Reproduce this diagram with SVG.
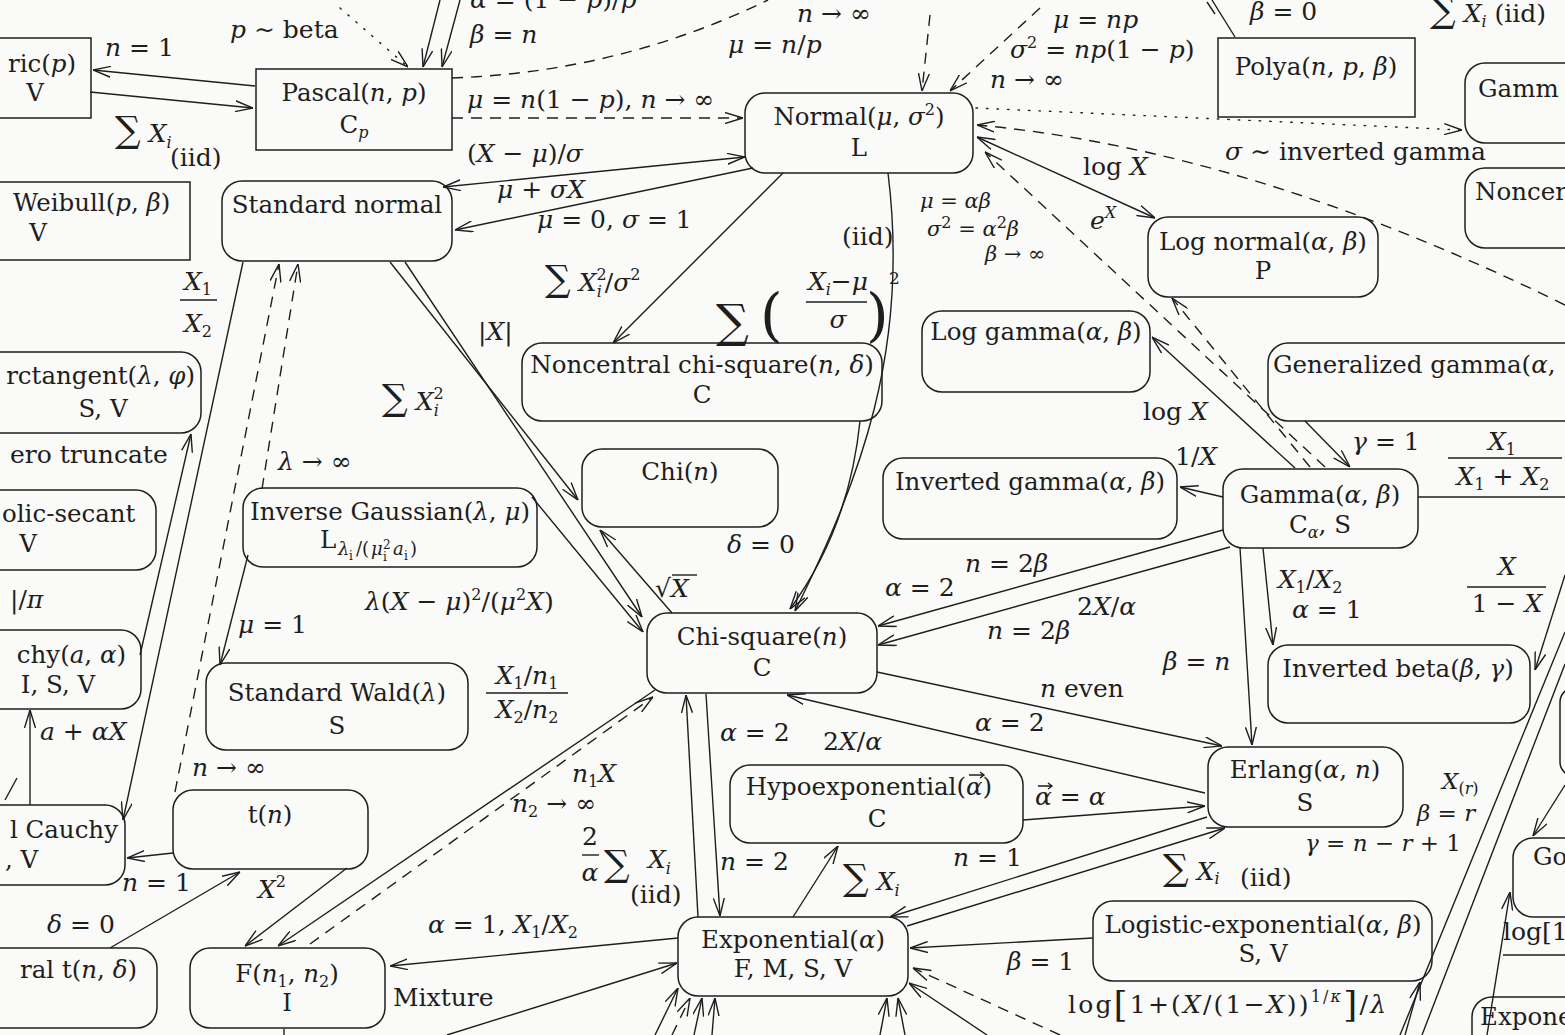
<svg xmlns="http://www.w3.org/2000/svg" width="1565" height="1035" viewBox="0 0 1565 1035">
<defs>
<style>
.nd{fill:none;stroke:#1e1e1e;stroke-width:1.5}
text{font-family:"DejaVu Serif","Liberation Serif",serif;font-size:25px;fill:#1e1e1e}
.nt{font-size:24.5px}
.sm{font-size:21px}
.md{font-size:23px}
.c{text-anchor:middle}
.e{text-anchor:end}
.i{font-style:italic}
.s{font-size:16px}
.big{font-size:36px}
.ln{fill:none;stroke:#1e1e1e;stroke-width:1.4}
.da{stroke-dasharray:11 8}
.dt{stroke-dasharray:1.5 9;stroke-linecap:round}
</style>
<marker id="a" viewBox="0 0 18 12" refX="18" refY="6" markerWidth="18" markerHeight="12" markerUnits="userSpaceOnUse" orient="auto-start-reverse">
<path d="M0,0.5 L18,6 L0,11.5" fill="none" stroke="#1e1e1e" stroke-width="1.4"/>
</marker>
</defs>
<rect width="1565" height="1035" fill="#fafaf8"/>

<g id="connectors">
<line class="ln" x1="255" y1="86" x2="93" y2="70" marker-end="url(#a)"/>
<line class="ln" x1="90" y1="92" x2="253" y2="108" marker-end="url(#a)"/>
<line class="ln dt" x1="340" y1="8" x2="408" y2="67" marker-end="url(#a)"/>
<line class="ln" x1="440" y1="0" x2="423" y2="67" marker-end="url(#a)"/>
<line class="ln" x1="460" y1="0" x2="442" y2="67" marker-end="url(#a)"/>
<path class="ln da" d="M452,78 Q620,72 768,0"/>
<line class="ln da" x1="452" y1="118" x2="743" y2="118" marker-end="url(#a)"/>
<line class="ln da" x1="930" y1="15" x2="922" y2="91" marker-end="url(#a)"/>
<line class="ln da" x1="1040" y1="8" x2="950" y2="91" marker-end="url(#a)"/>
<line class="ln" x1="1235" y1="37" x2="1212" y2="0"/>
<line class="ln" x1="1207" y1="2" x2="1215" y2="14"/>
<line class="ln dt" x1="976" y1="108" x2="1462" y2="130" marker-end="url(#a)"/>
<path class="ln da" d="M1565,305 Q1250,150 977,125" marker-end="url(#a)"/>
<line class="ln" x1="977" y1="137" x2="1155" y2="218" marker-start="url(#a)" marker-end="url(#a)"/>
<line class="ln da" x1="1325" y1="467" x2="985" y2="152" marker-end="url(#a)"/>
<line class="ln da" x1="1310" y1="467" x2="1172" y2="298" marker-end="url(#a)"/>
<line class="ln" x1="1295" y1="468" x2="1152" y2="337" marker-end="url(#a)"/>
<line class="ln" x1="1305" y1="421" x2="1350" y2="467" marker-end="url(#a)"/>
<line class="ln" x1="1223" y1="497" x2="1180" y2="487" marker-end="url(#a)"/>
<line class="ln" x1="1223" y1="530" x2="878" y2="626" marker-end="url(#a)"/>
<line class="ln" x1="1230" y1="547" x2="878" y2="645" marker-end="url(#a)"/>
<line class="ln" x1="1418" y1="497" x2="1565" y2="497"/>
<line class="ln" x1="1263" y1="548" x2="1273" y2="645" marker-end="url(#a)"/>
<line class="ln" x1="1240" y1="548" x2="1252" y2="745" marker-end="url(#a)"/>
<line class="ln" x1="877" y1="672" x2="1222" y2="746" marker-end="url(#a)"/>
<line class="ln" x1="1205" y1="793" x2="787" y2="695" marker-end="url(#a)"/>
<line class="ln" x1="1023" y1="820" x2="1205" y2="806" marker-end="url(#a)"/>
<line class="ln" x1="1207" y1="817" x2="890" y2="917" marker-end="url(#a)"/>
<line class="ln" x1="907" y1="926" x2="1225" y2="828" marker-end="url(#a)"/>
<line class="ln" x1="793" y1="917" x2="838" y2="846" marker-end="url(#a)"/>
<line class="ln" x1="698" y1="917" x2="686" y2="695" marker-end="url(#a)"/>
<line class="ln" x1="706" y1="694" x2="720" y2="916" marker-end="url(#a)"/>
<line class="ln" x1="1093" y1="938" x2="910" y2="948" marker-end="url(#a)"/>
<line class="ln" x1="678" y1="938" x2="390" y2="966" marker-end="url(#a)"/>
<line class="ln" x1="447" y1="1035" x2="677" y2="963" marker-end="url(#a)"/>
<line class="ln" x1="655" y1="690" x2="278" y2="946" marker-end="url(#a)"/>
<line class="ln da" x1="310" y1="944" x2="653" y2="697" marker-end="url(#a)"/>
<line class="ln" x1="347" y1="868" x2="245" y2="946" marker-end="url(#a)"/>
<line class="ln" x1="110" y1="948" x2="240" y2="872" marker-end="url(#a)"/>
<line class="ln" x1="173" y1="853" x2="127" y2="858" marker-end="url(#a)"/>
<line class="ln" x1="30" y1="805" x2="30" y2="710" marker-end="url(#a)"/>
<line class="ln" x1="243" y1="262" x2="123" y2="820" marker-end="url(#a)"/>
<line class="ln" x1="140" y1="655" x2="191" y2="434" marker-end="url(#a)"/>
<line class="ln da" x1="175" y1="792" x2="279" y2="264" marker-end="url(#a)"/>
<line class="ln da" x1="262" y1="489" x2="298" y2="264" marker-end="url(#a)"/>
<line class="ln" x1="248" y1="555" x2="220" y2="665" marker-end="url(#a)"/>
<line class="ln" x1="390" y1="262" x2="578" y2="500" marker-end="url(#a)"/>
<line class="ln" x1="405" y1="262" x2="642" y2="617" marker-end="url(#a)"/>
<line class="ln" x1="532" y1="497" x2="643" y2="632" marker-end="url(#a)"/>
<line class="ln" x1="672" y1="613" x2="600" y2="530" marker-end="url(#a)"/>
<line class="ln" x1="783" y1="173" x2="613" y2="343" marker-end="url(#a)"/>
<path class="ln" d="M888,173 C910,350 860,480 795,611" marker-end="url(#a)"/>
<path class="ln" d="M860,421 C852,500 826,560 790,609" marker-end="url(#a)"/>
<line class="ln" x1="443" y1="187" x2="745" y2="157" marker-start="url(#a)" marker-end="url(#a)"/>
<line class="ln" x1="753" y1="168" x2="455" y2="230" marker-end="url(#a)"/>
<line class="ln" x1="1565" y1="575" x2="1535" y2="670" marker-end="url(#a)"/>
<line class="ln" x1="1565" y1="632" x2="1400" y2="1035"/>
<line class="ln" x1="1565" y1="664" x2="1422" y2="1035"/>
<line class="ln" x1="1405" y1="1035" x2="1420" y2="982" marker-end="url(#a)"/>
<line class="ln da" x1="1060" y1="1035" x2="913" y2="968" marker-end="url(#a)"/>
<line class="ln" x1="987" y1="1035" x2="909" y2="983" marker-end="url(#a)"/>
<line class="ln" x1="655" y1="1035" x2="678" y2="988" marker-end="url(#a)"/>
<line class="ln da" x1="672" y1="1035" x2="690" y2="998" marker-end="url(#a)"/>
<line class="ln" x1="694" y1="1035" x2="702" y2="998" marker-end="url(#a)"/>
<line class="ln" x1="712" y1="1035" x2="715" y2="998" marker-end="url(#a)"/>
<line class="ln" x1="880" y1="1035" x2="887" y2="998" marker-end="url(#a)"/>
<line class="ln" x1="905" y1="1035" x2="898" y2="998" marker-end="url(#a)"/>
<line class="ln" x1="1487" y1="1035" x2="1510" y2="892" marker-end="url(#a)"/>
<line class="ln" x1="1565" y1="785" x2="1533" y2="836" marker-end="url(#a)"/>
<line class="ln" x1="5" y1="800" x2="17" y2="778"/>
<line class="ln" x1="284" y1="1035" x2="284" y2="1029"/>
</g>

<g id="n-geometric"><rect class="nd" x="-10" y="38" width="101" height="80"/><text class="nt" x="8" y="72">ric(<tspan class="i">p</tspan>)</text><text class="nt c" x="35" y="101">V</text></g>
<g id="n-pascal"><rect class="nd" x="256" y="69" width="196" height="81"/><text class="nt c" x="354" y="101">Pascal(<tspan class="i">n</tspan>, <tspan class="i">p</tspan>)</text><text class="nt c" x="354" y="133">C<tspan class="s i" dy="5">p</tspan></text></g>
<g id="n-normal"><rect class="nd" x="745" y="93" width="228" height="80" rx="20"/><text class="nt c" x="859" y="125">Normal(<tspan class="i">μ</tspan>, <tspan class="i">σ</tspan><tspan class="s" dy="-10">2</tspan><tspan dy="10">)</tspan></text><text class="nt c" x="859" y="156">L</text></g>
<g id="n-polya"><rect class="nd" x="1218" y="38" width="197" height="79"/><text class="nt c" x="1316" y="75">Polya(<tspan class="i">n</tspan>, <tspan class="i">p</tspan>, <tspan class="i">β</tspan>)</text></g>
<g id="n-gamma-r"><rect class="nd" x="1465" y="63" width="140" height="80" rx="20"/><text class="nt" x="1478" y="97">Gamm</text></g>
<g id="n-noncer"><rect class="nd" x="1465" y="168" width="140" height="80" rx="20"/><text class="nt" x="1475" y="200">Noncer</text></g>
<g id="n-weibull"><rect class="nd" x="-10" y="182" width="200" height="78"/><text class="nt" x="13" y="211">Weibull(<tspan class="i">p</tspan>, <tspan class="i">β</tspan>)</text><text class="nt c" x="38" y="241">V</text></g>
<g id="n-stdnormal"><rect class="nd" x="222" y="181" width="230" height="80" rx="20"/><text class="nt c" x="337" y="213">Standard normal</text></g>
<g id="n-lognormal"><rect class="nd" x="1148" y="217" width="230" height="80" rx="20"/><text class="nt c" x="1263" y="250">Log normal(<tspan class="i">α</tspan>, <tspan class="i">β</tspan>)</text><text class="nt c" x="1263" y="279">P</text></g>
<g id="n-loggamma"><rect class="nd" x="922" y="311" width="228" height="81" rx="20"/><text class="nt c" x="1036" y="340">Log gamma(<tspan class="i">α</tspan>, <tspan class="i">β</tspan>)</text></g>
<g id="n-gengamma"><rect class="nd" x="1268" y="343" width="330" height="78" rx="20"/><text class="nt" x="1273" y="373">Generalized gamma(<tspan class="i">α</tspan>,</text></g>
<g id="n-arctan"><rect class="nd" x="-20" y="352" width="221" height="81" rx="20"/><text class="nt e" x="195" y="384">rctangent(<tspan class="i">λ</tspan>, <tspan class="i">φ</tspan>)</text><text class="nt c" x="103" y="417">S, V</text></g>
<g id="n-ncchisq"><rect class="nd" x="522" y="343" width="360" height="78" rx="20"/><text class="nt c" x="702" y="373">Noncentral chi-square(<tspan class="i">n</tspan>, <tspan class="i">δ</tspan>)</text><text class="nt c" x="702" y="403">C</text></g>
<g id="n-hypsec"><rect class="nd" x="-20" y="490" width="176" height="80" rx="20"/><text class="nt" x="2" y="522">olic-secant</text><text class="nt c" x="28" y="552">V</text></g>
<g id="n-chi"><rect class="nd" x="582" y="449" width="196" height="78" rx="20"/><text class="nt c" x="680" y="480">Chi(<tspan class="i">n</tspan>)</text></g>
<g id="n-invgauss"><rect class="nd" x="243" y="488" width="294" height="79" rx="20"/><text class="nt c" x="390" y="520">Inverse Gaussian(<tspan class="i">λ</tspan>, <tspan class="i">μ</tspan>)</text><text class="nt" x="320" y="548">L</text><text class="i" x="338" y="555" style="font-size:18px">λ</text><text x="349" y="560" style="font-size:12px">i</text><text x="356" y="555" style="font-size:18px">/(</text><text class="i" x="371" y="555" style="font-size:18px">μ</text><text x="383" y="549" style="font-size:12px">2</text><text x="383" y="561" style="font-size:12px">i</text><text class="i" x="393" y="555" style="font-size:18px">a</text><text x="404" y="560" style="font-size:12px">i</text><text x="410" y="555" style="font-size:18px">)</text></g>
<g id="n-invgamma"><rect class="nd" x="883" y="458" width="294" height="81" rx="20"/><text class="nt c" x="1030" y="490">Inverted gamma(<tspan class="i">α</tspan>, <tspan class="i">β</tspan>)</text></g>
<g id="n-gamma"><rect class="nd" x="1223" y="469" width="195" height="79" rx="20"/><text class="nt c" x="1320" y="503">Gamma(<tspan class="i">α</tspan>, <tspan class="i">β</tspan>)</text><text class="nt c" x="1320" y="533">C<tspan class="s i" dy="5">α</tspan><tspan dy="-5">, S</tspan></text></g>
<g id="n-cauchy-a"><rect class="nd" x="-20" y="630" width="161" height="79" rx="20"/><text class="nt e" x="126" y="663">chy(<tspan class="i">a</tspan>, <tspan class="i">α</tspan>)</text><text class="nt c" x="58" y="693">I, S, V</text></g>
<g id="n-chisq"><rect class="nd" x="647" y="613" width="230" height="80" rx="20"/><text class="nt c" x="762" y="645">Chi-square(<tspan class="i">n</tspan>)</text><text class="nt c" x="762" y="676">C</text></g>
<g id="n-wald"><rect class="nd" x="206" y="663" width="262" height="87" rx="20"/><text class="nt c" x="337" y="701">Standard Wald(<tspan class="i">λ</tspan>)</text><text class="nt c" x="337" y="734">S</text></g>
<g id="n-invbeta"><rect class="nd" x="1268" y="645" width="262" height="78" rx="20"/><text class="nt c" x="1398" y="677">Inverted beta(<tspan class="i">β</tspan>, <tspan class="i">γ</tspan>)</text></g>
<g id="n-erlang"><rect class="nd" x="1208" y="747" width="195" height="80" rx="20"/><text class="nt c" x="1305" y="778">Erlang(<tspan class="i">α</tspan>, <tspan class="i">n</tspan>)</text><text class="nt c" x="1305" y="811">S</text></g>
<g id="n-hypoexp"><rect class="nd" x="730" y="765" width="293" height="78" rx="20"/><text class="nt e" x="966" y="795">Hypoexponential(</text><text class="nt" x="966" y="795"><tspan class="i">α</tspan>)</text><path class="ln" d="M969,775 L984,775 M980,772 L984,775 L980,778"/><text class="nt c" x="877" y="827">C</text></g>
<g id="n-t"><rect class="nd" x="173" y="790" width="195" height="79" rx="20"/><text class="nt c" x="270" y="823">t(<tspan class="i">n</tspan>)</text></g>
<g id="n-cauchy-std"><rect class="nd" x="-20" y="805" width="145" height="80" rx="20"/><text class="nt e" x="118" y="838">l Cauchy</text><text class="nt" x="5" y="868">, V</text></g>
<g id="n-go"><rect class="nd" x="1513" y="838" width="100" height="79" rx="20"/><text class="nt" x="1533" y="865">Go</text></g>
<g id="n-right-edge"><rect class="nd" x="1560" y="688" width="60" height="88" rx="14"/></g>
<g id="n-expo"><rect class="nd" x="678" y="917" width="230" height="79" rx="20"/><text class="nt c" x="793" y="948">Exponential(<tspan class="i">α</tspan>)</text><text class="nt c" x="793" y="977">F, M, S, V</text></g>
<g id="n-logexp"><rect class="nd" x="1093" y="901" width="339" height="80" rx="20"/><text class="nt c" x="1263" y="933">Logistic-exponential(<tspan class="i">α</tspan>, <tspan class="i">β</tspan>)</text><text class="nt c" x="1263" y="962">S, V</text></g>
<g id="n-f"><rect class="nd" x="190" y="948" width="195" height="80" rx="20"/><text class="nt c" x="287" y="982">F(<tspan class="i">n</tspan><tspan class="s" dy="5">1</tspan><tspan dy="-5">, </tspan><tspan class="i">n</tspan><tspan class="s" dy="5">2</tspan><tspan dy="-5">)</tspan></text><text class="nt c" x="287" y="1011">I</text></g>
<g id="n-nct"><rect class="nd" x="-20" y="948" width="177" height="80" rx="20"/><text class="nt e" x="137" y="978">ral t(<tspan class="i">n</tspan>, <tspan class="i">δ</tspan>)</text></g>
<g id="n-expo-r"><rect class="nd" x="1472" y="997" width="130" height="60" rx="20"/><text class="nt" x="1480" y="1025">Expone</text></g>

<g id="labels">
<text x="105" y="56"><tspan class="i">n</tspan> = 1</text>
<text x="115" y="142"><tspan class="big">∑</tspan> <tspan class="i">X</tspan><tspan class="s i" dy="6">i</tspan></text>
<text x="170" y="166">(iid)</text>
<text x="230" y="38"><tspan class="i">p</tspan> ∼ beta</text>
<text x="470" y="8"><tspan class="i">α</tspan> = (1 − <tspan class="i">p</tspan>)/<tspan class="i">p</tspan></text>
<text x="470" y="43"><tspan class="i">β</tspan> = <tspan class="i">n</tspan></text>
<text x="797" y="22"><tspan class="i">n</tspan> → ∞</text>
<text x="728" y="53"><tspan class="i">μ</tspan> = <tspan class="i">n</tspan>/<tspan class="i">p</tspan></text>
<text x="467" y="108"><tspan class="i">μ</tspan> = <tspan class="i">n</tspan>(1 − <tspan class="i">p</tspan>), <tspan class="i">n</tspan> → ∞</text>
<text x="1053" y="28"><tspan class="i">μ</tspan> = <tspan class="i">np</tspan></text>
<text x="1010" y="58"><tspan class="i">σ</tspan><tspan class="s" dy="-10">2</tspan><tspan dy="10"> = </tspan><tspan class="i">np</tspan>(1 − <tspan class="i">p</tspan>)</text>
<text x="990" y="88"><tspan class="i">n</tspan> → ∞</text>
<text x="1250" y="20"><tspan class="i">β</tspan> = 0</text>
<text x="1430" y="22"><tspan class="big">∑</tspan> <tspan class="i">X</tspan><tspan class="s i" dy="5">i</tspan><tspan dy="-5"> (iid)</tspan></text>
<text x="1225" y="160"><tspan class="i">σ</tspan> ∼ inverted gamma</text>
<text x="1083" y="175">log <tspan class="i">X</tspan></text>
<text x="1090" y="229"><tspan class="i">e</tspan><tspan class="s i" dy="-11">X</tspan></text>
<text class="sm" x="920" y="208"><tspan class="i">μ</tspan> = <tspan class="i">αβ</tspan></text>
<text class="sm" x="927" y="236"><tspan class="i">σ</tspan><tspan class="s" dy="-8">2</tspan><tspan dy="8"> = </tspan><tspan class="i">α</tspan><tspan class="s" dy="-8">2</tspan><tspan class="i" dy="8">β</tspan></text>
<text class="sm" x="985" y="261"><tspan class="i">β</tspan> → ∞</text>
<text x="467" y="162">(<tspan class="i">X</tspan> − <tspan class="i">μ</tspan>)/<tspan class="i">σ</tspan></text>
<text x="497" y="198"><tspan class="i">μ</tspan> + <tspan class="i">σX</tspan></text>
<text x="537" y="228"><tspan class="i">μ</tspan> = 0, <tspan class="i">σ</tspan> = 1</text>
<text x="545" y="291"><tspan class="big">∑</tspan> <tspan class="i">X</tspan><tspan class="s" dy="-11">2</tspan><tspan class="s i" dx="-10" dy="17">i</tspan><tspan dx="3" dy="-6">/</tspan><tspan class="i">σ</tspan><tspan class="s" dy="-11">2</tspan></text>
<text x="842" y="245">(iid)</text>
<text x="716" y="337" style="font-size:46px">∑</text>
<text x="760" y="335" style="font-size:58px">(</text>
<text class="c" x="838" y="290"><tspan class="i">X</tspan><tspan class="s i" dy="5">i</tspan><tspan dy="-5">−</tspan><tspan class="i">μ</tspan></text>
<line class="ln" x1="806" y1="302" x2="867" y2="302"/>
<text class="c i" x="838" y="328">σ</text>
<text x="866" y="335" style="font-size:58px">)</text>
<text x="889" y="284" style="font-size:17px">2</text>
<text class="c" x="198" y="290"><tspan class="i">X</tspan><tspan class="s" dy="5">1</tspan></text>
<line class="ln" x1="180" y1="300" x2="217" y2="300"/>
<text class="c" x="198" y="332"><tspan class="i">X</tspan><tspan class="s" dy="5">2</tspan></text>
<text x="478" y="340">|<tspan class="i">X</tspan>|</text>
<text x="382" y="410"><tspan class="big">∑</tspan> <tspan class="i">X</tspan><tspan class="s" dy="-11">2</tspan><tspan class="s i" dx="-10" dy="17">i</tspan></text>
<text x="10" y="463">ero truncate</text>
<text x="278" y="470"><tspan class="i">λ</tspan> → ∞</text>
<text x="1143" y="420">log <tspan class="i">X</tspan></text>
<text x="1352" y="450"><tspan class="i">γ</tspan> = 1</text>
<text class="c" x="1502" y="450"><tspan class="i">X</tspan><tspan class="s" dy="5">1</tspan></text>
<line class="ln" x1="1448" y1="458" x2="1562" y2="458"/>
<text class="c" x="1503" y="485"><tspan class="i">X</tspan><tspan class="s" dy="5">1</tspan><tspan dy="-5"> + </tspan><tspan class="i">X</tspan><tspan class="s" dy="5">2</tspan></text>
<text x="1175" y="465">1/<tspan class="i">X</tspan></text>
<text x="727" y="553"><tspan class="i">δ</tspan> = 0</text>
<text x="655" y="597">√<tspan class="i">X</tspan></text>
<line class="ln" x1="672" y1="575" x2="697" y2="575"/>
<text x="965" y="572"><tspan class="i">n</tspan> = 2<tspan class="i">β</tspan></text>
<text x="885" y="596"><tspan class="i">α</tspan> = 2</text>
<text x="1077" y="615">2<tspan class="i">X</tspan>/<tspan class="i">α</tspan></text>
<text x="987" y="639"><tspan class="i">n</tspan> = 2<tspan class="i">β</tspan></text>
<text x="1278" y="588"><tspan class="i">X</tspan><tspan class="s" dy="5">1</tspan><tspan dy="-5">/</tspan><tspan class="i">X</tspan><tspan class="s" dy="5">2</tspan></text>
<text x="1292" y="618"><tspan class="i">α</tspan> = 1</text>
<text class="c i" x="1507" y="575">X</text>
<line class="ln" x1="1467" y1="587" x2="1546" y2="587"/>
<text class="c" x="1507" y="612">1 − <tspan class="i">X</tspan></text>
<text x="10" y="608">|/<tspan class="i">π</tspan></text>
<text x="365" y="610"><tspan class="i">λ</tspan>(<tspan class="i">X</tspan> − <tspan class="i">μ</tspan>)<tspan class="s" dy="-10">2</tspan><tspan dy="10">/(</tspan><tspan class="i">μ</tspan><tspan class="s" dy="-10">2</tspan><tspan class="i" dy="10">X</tspan>)</text>
<text x="238" y="633"><tspan class="i">μ</tspan> = 1</text>
<text x="1040" y="697"><tspan class="i">n</tspan> even</text>
<text x="1163" y="670"><tspan class="i">β</tspan> = <tspan class="i">n</tspan></text>
<text class="c" x="527" y="684"><tspan class="i">X</tspan><tspan class="s" dy="5">1</tspan><tspan dy="-5">/</tspan><tspan class="i">n</tspan><tspan class="s" dy="5">1</tspan></text>
<line class="ln" x1="486" y1="693" x2="568" y2="693"/>
<text class="c" x="527" y="718"><tspan class="i">X</tspan><tspan class="s" dy="5">2</tspan><tspan dy="-5">/</tspan><tspan class="i">n</tspan><tspan class="s" dy="5">2</tspan></text>
<text x="720" y="741"><tspan class="i">α</tspan> = 2</text>
<text x="823" y="750">2<tspan class="i">X</tspan>/<tspan class="i">α</tspan></text>
<text x="975" y="731"><tspan class="i">α</tspan> = 2</text>
<text x="40" y="740"><tspan class="i">a</tspan> + <tspan class="i">αX</tspan></text>
<text x="192" y="776"><tspan class="i">n</tspan> → ∞</text>
<text x="572" y="782"><tspan class="i">n</tspan><tspan class="s" dy="5">1</tspan><tspan class="i" dy="-5">X</tspan></text>
<text x="512" y="812"><tspan class="i">n</tspan><tspan class="s" dy="5">2</tspan><tspan dy="-5"> → ∞</tspan></text>
<text x="1035" y="805"><tspan class="i">α</tspan> = <tspan class="i">α</tspan></text>
<path class="ln" d="M1038,786 L1052,786 M1048,783 L1052,786 L1048,789"/>
<text class="md" x="1442" y="789"><tspan class="i">X</tspan><tspan class="s" dy="5">(</tspan><tspan class="s i">r</tspan><tspan class="s">)</tspan></text>
<text class="md" x="1417" y="821"><tspan class="i">β</tspan> = <tspan class="i">r</tspan></text>
<text class="md" x="1305" y="851"><tspan class="i">γ</tspan> = <tspan class="i">n</tspan> − <tspan class="i">r</tspan> + 1</text>
<text class="c" x="590" y="845">2</text>
<line class="ln" x1="582" y1="855" x2="599" y2="855"/>
<text class="c i" x="590" y="881">α</text>
<text x="604" y="876" class="big">∑</text>
<text x="648" y="868"><tspan class="i">X</tspan><tspan class="s i" dy="6">i</tspan></text>
<text x="630" y="903">(iid)</text>
<text x="720" y="870"><tspan class="i">n</tspan> = 2</text>
<text x="953" y="866"><tspan class="i">n</tspan> = 1</text>
<text x="843" y="890"><tspan class="big">∑</tspan> <tspan class="i">X</tspan><tspan class="s i" dy="6">i</tspan></text>
<text x="1163" y="880"><tspan class="big">∑</tspan> <tspan class="i">X</tspan><tspan class="s i" dy="4">i</tspan></text>
<text x="1240" y="886">(iid)</text>
<text x="122" y="891"><tspan class="i">n</tspan> = 1</text>
<text x="258" y="898"><tspan class="i">X</tspan><tspan class="s" dy="-11">2</tspan></text>
<text x="47" y="933"><tspan class="i">δ</tspan> = 0</text>
<text x="428" y="933"><tspan class="i">α</tspan> = 1, <tspan class="i">X</tspan><tspan class="s" dy="5">1</tspan><tspan dy="-5">/</tspan><tspan class="i">X</tspan><tspan class="s" dy="5">2</tspan></text>
<text x="1007" y="970"><tspan class="i">β</tspan> = 1</text>
<text x="1503" y="940">log[1</text>
<line class="ln" x1="1503" y1="955" x2="1565" y2="955"/>
<text x="393" y="1006">Mixture</text>
<text x="1068" y="1013" textLength="318" lengthAdjust="spacing">log<tspan class="big" dy="4">[</tspan><tspan dy="-4">1+(</tspan><tspan class="i">X</tspan>/(1−<tspan class="i">X</tspan>))<tspan class="s" dy="-11">1/</tspan><tspan class="s i">κ</tspan><tspan class="big" dy="15">]</tspan><tspan dy="-4">/</tspan><tspan class="i">λ</tspan></text>
</g>
</svg>
